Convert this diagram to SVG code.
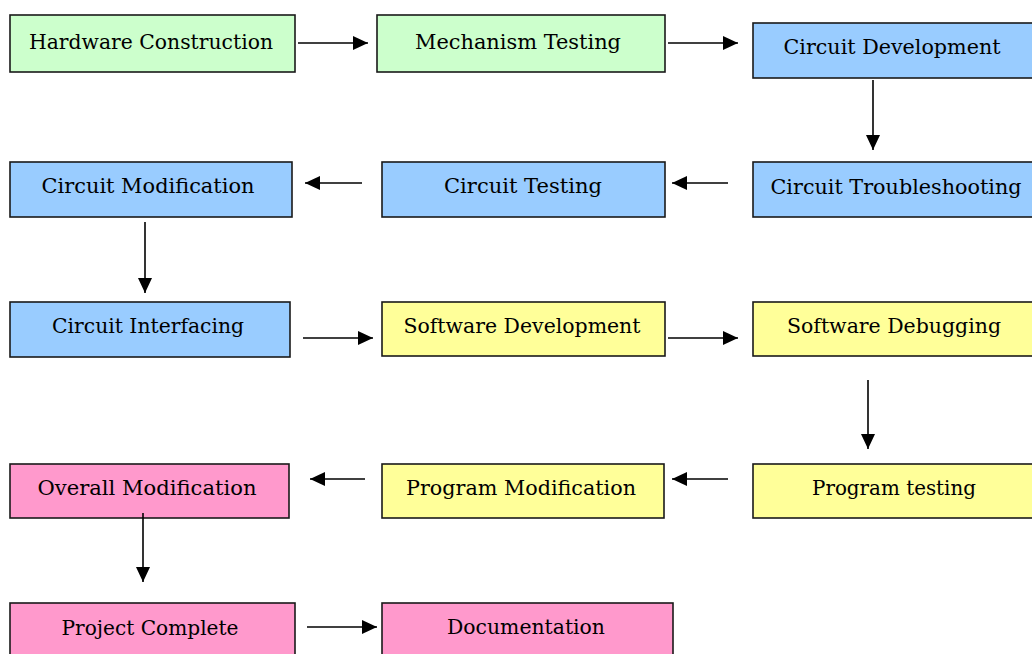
<svg xmlns="http://www.w3.org/2000/svg" width="1032" height="654" viewBox="0 0 1032 654">
  <defs>
    <style>
      .box { stroke: #1a1a1a; stroke-width: 1.6; }
      .green { fill: #ccffcc; }
      .blue { fill: #99ccff; }
      .yellow { fill: #ffff99; }
      .pink { fill: #ff99cc; }
      .label { font-family: "DejaVu Serif", "Liberation Serif", serif; font-size: 20.5px; fill: #000; text-anchor: middle; }
      .conn { stroke: #000; stroke-width: 1.6; fill: none; marker-end: url(#arrow); }
    </style>
    <marker id="arrow" markerUnits="userSpaceOnUse" markerWidth="16" markerHeight="14" refX="15" refY="7" orient="auto">
      <path d="M0,0 L15,7 L0,14 Z" fill="#000"/>
    </marker>
  </defs>
  <rect width="1032" height="654" fill="#ffffff"/>

  <!-- Row 1 -->
  <g id="hardware-construction">
    <rect class="box green" x="10" y="15" width="285" height="57"/>
    <text class="label" x="151" y="49" textLength="244" lengthAdjust="spacingAndGlyphs">Hardware Construction</text>
  </g>
  <g id="mechanism-testing">
    <rect class="box green" x="377" y="15" width="288" height="57"/>
    <text class="label" x="518" y="49" textLength="206" lengthAdjust="spacingAndGlyphs">Mechanism Testing</text>
  </g>
  <g id="circuit-development">
    <rect class="box blue" x="753" y="23" width="290" height="55"/>
    <text class="label" x="892" y="54" textLength="217" lengthAdjust="spacingAndGlyphs">Circuit Development</text>
  </g>

  <!-- Row 2 -->
  <g id="circuit-modification">
    <rect class="box blue" x="10" y="162" width="282" height="55"/>
    <text class="label" x="148" y="193" textLength="213" lengthAdjust="spacingAndGlyphs">Circuit Modification</text>
  </g>
  <g id="circuit-testing">
    <rect class="box blue" x="382" y="162" width="283" height="55"/>
    <text class="label" x="523" y="193" textLength="158" lengthAdjust="spacingAndGlyphs">Circuit Testing</text>
  </g>
  <g id="circuit-troubleshooting">
    <rect class="box blue" x="753" y="162" width="290" height="55"/>
    <text class="label" x="896" y="194" textLength="251" lengthAdjust="spacingAndGlyphs">Circuit Troubleshooting</text>
  </g>

  <!-- Row 3 -->
  <g id="circuit-interfacing">
    <rect class="box blue" x="10" y="302" width="280" height="55"/>
    <text class="label" x="148" y="333" textLength="192" lengthAdjust="spacingAndGlyphs">Circuit Interfacing</text>
  </g>
  <g id="software-development">
    <rect class="box yellow" x="382" y="302" width="283" height="54"/>
    <text class="label" x="522" y="333" textLength="237" lengthAdjust="spacingAndGlyphs">Software Development</text>
  </g>
  <g id="software-debugging">
    <rect class="box yellow" x="753" y="302" width="290" height="54"/>
    <text class="label" x="894" y="333" textLength="214" lengthAdjust="spacingAndGlyphs">Software Debugging</text>
  </g>

  <!-- Row 4 -->
  <g id="overall-modification">
    <rect class="box pink" x="10" y="464" width="279" height="54"/>
    <text class="label" x="147" y="495" textLength="219" lengthAdjust="spacingAndGlyphs">Overall Modification</text>
  </g>
  <g id="program-modification">
    <rect class="box yellow" x="382" y="464" width="282" height="54"/>
    <text class="label" x="521" y="495" textLength="230" lengthAdjust="spacingAndGlyphs">Program Modification</text>
  </g>
  <g id="program-testing">
    <rect class="box yellow" x="753" y="464" width="290" height="54"/>
    <text class="label" x="894" y="495" textLength="164" lengthAdjust="spacingAndGlyphs">Program testing</text>
  </g>

  <!-- Row 5 -->
  <g id="project-complete">
    <rect class="box pink" x="10" y="603" width="285" height="60"/>
    <text class="label" x="150" y="635" textLength="177" lengthAdjust="spacingAndGlyphs">Project Complete</text>
  </g>
  <g id="documentation">
    <rect class="box pink" x="382" y="603" width="291" height="60"/>
    <text class="label" x="526" y="634" textLength="158" lengthAdjust="spacingAndGlyphs">Documentation</text>
  </g>

  <!-- Connectors -->
  <g id="connectors">
    <line class="conn" x1="298" y1="43" x2="368" y2="43"/>
    <line class="conn" x1="668" y1="43" x2="738" y2="43"/>
    <line class="conn" x1="873" y1="80" x2="873" y2="150"/>
    <line class="conn" x1="728" y1="183" x2="672" y2="183"/>
    <line class="conn" x1="362" y1="183" x2="305" y2="183"/>
    <line class="conn" x1="145" y1="222" x2="145" y2="293"/>
    <line class="conn" x1="303" y1="338" x2="373" y2="338"/>
    <line class="conn" x1="668" y1="338" x2="738" y2="338"/>
    <line class="conn" x1="868" y1="380" x2="868" y2="449"/>
    <line class="conn" x1="728" y1="479" x2="672" y2="479"/>
    <line class="conn" x1="365" y1="479" x2="310" y2="479"/>
    <line class="conn" x1="143" y1="513" x2="143" y2="582"/>
    <line class="conn" x1="307" y1="627" x2="377" y2="627"/>
  </g>
</svg>
